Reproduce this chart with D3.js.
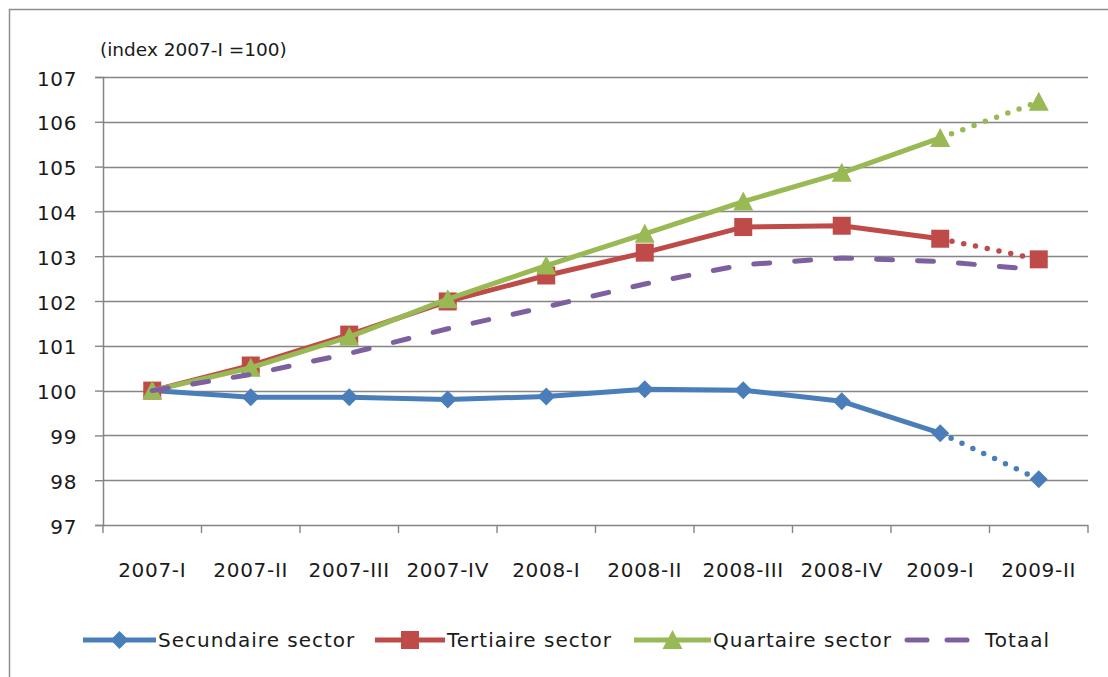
<!DOCTYPE html>
<html>
<head>
<meta charset="utf-8">
<script src="https://cdn.jsdelivr.net/npm/d3@7"></script>
<style>
  body { margin: 0; background: #fff; }
  text { font-family: "DejaVu Sans", sans-serif; fill: #1a1a1a; }
</style>
</head>
<body>
<div id="chart"></div>
<script>
const categories = ["2007-I", "2007-II", "2007-III", "2007-IV", "2008-I", "2008-II", "2008-III", "2008-IV", "2009-I", "2009-II"];
const secundaire = [100, 99.85, 99.85, 99.8, 99.87, 100.03, 100.01, 99.76, 99.05, 98.02];
const tertiaire = [100, 100.56, 101.25, 101.99, 102.57, 103.08, 103.65, 103.68, 103.39, 102.93];
const quartaire = [100, 100.51, 101.2, 102.04, 102.79, 103.5, 104.22, 104.86, 105.64, 106.45];
const totaal = [100, 100.36, 100.83, 101.38, 101.87, 102.38, 102.81, 102.96, 102.88, 102.7];
const yTicks = [97, 98, 99, 100, 101, 102, 103, 104, 105, 106, 107];
const unitLabel = "(index 2007-I =100)";

const series = [
  { name: "Secundaire sector", values: secundaire, color: "#4a7ebb", marker: "diamond", projected: true },
  { name: "Tertiaire sector", values: tertiaire, color: "#be4b48", marker: "square", projected: true },
  { name: "Quartaire sector", values: quartaire, color: "#98b954", marker: "triangle", projected: true },
  { name: "Totaal", values: totaal, color: "#7d60a0", marker: null, projected: false }
];

const W = 1108, H = 677;
const plot = { left: 103, right: 1088, top: 77, bottom: 525 };

const svg = d3.select("#chart").append("svg")
  .attr("width", W).attr("height", H);

// outer chart border (cut off at right/bottom like the reference)
svg.append("rect")
  .attr("x", 9.5).attr("y", 9.5)
  .attr("width", W + 10).attr("height", H + 10)
  .attr("fill", "none").attr("stroke", "#8e8e8e").attr("stroke-width", 1.5);

const x = d3.scaleBand().domain(categories).range([plot.left, plot.right]);
const y = d3.scaleLinear().domain([97, 107]).range([plot.bottom, plot.top]);
const cx = d => x(d) + x.bandwidth() / 2;

// gridlines
svg.append("g")
  .selectAll("line").data(yTicks.filter(t => t > 97)).join("line")
  .attr("x1", plot.left).attr("x2", plot.right)
  .attr("y1", d => Math.round(y(d)) + 0.5).attr("y2", d => Math.round(y(d)) + 0.5)
  .attr("stroke", "#858585").attr("stroke-width", 1.4);

// y axis
const yAxis = svg.append("g")
  .attr("transform", `translate(${plot.left},0)`)
  .call(d3.axisLeft(y).tickValues(yTicks).tickSize(8).tickPadding(18).tickFormat(d3.format("d")));
yAxis.select(".domain").attr("stroke", "#858585").attr("stroke-width", 1.5);
yAxis.selectAll(".tick line").attr("stroke", "#858585").attr("stroke-width", 1.4);
yAxis.selectAll(".tick text")
  .attr("font-size", 20).attr("font-family", "DejaVu Sans").attr("fill", "#1a1a1a")
  .attr("letter-spacing", 0.6)
  .attr("dy", "0.4em");

// x axis, ticks between categories
const xAxis = svg.append("g")
  .attr("transform", `translate(0,${plot.bottom})`);
xAxis.append("line")
  .attr("x1", plot.left).attr("x2", plot.right)
  .attr("y1", 0.5).attr("y2", 0.5)
  .attr("stroke", "#858585").attr("stroke-width", 1.5);
const bounds = categories.map(c => x(c)).concat([plot.right]);
xAxis.selectAll("line.tk").data(bounds).join("line")
  .attr("class", "tk")
  .attr("x1", d => d).attr("x2", d => d)
  .attr("y1", 0).attr("y2", 8)
  .attr("stroke", "#858585").attr("stroke-width", 1.4);
xAxis.selectAll("text").data(categories).join("text")
  .attr("x", d => cx(d)).attr("y", 52)
  .attr("text-anchor", "middle").attr("font-size", 20)
  .attr("letter-spacing", 0.7)
  .text(d => d);

// unit label
svg.append("text")
  .attr("x", 100).attr("y", 56)
  .attr("font-size", 18.5)
  .text(unitLabel);

// markers
function markerPath(type, size) {
  const s = size / 2;
  if (type === "diamond") return `M0,${-s}L${s},0L0,${s}L${-s},0Z`;
  if (type === "square") return `M${-s},${-s}H${s}V${s}H${-s}Z`;
  if (type === "triangle") return `M0,${-s - 1}L${s + 1},${s}L${-s - 1},${s}Z`;
  return "";
}
const markerSize = { diamond: 18, square: 18, triangle: 18 };

const line = d3.line()
  .x(d => cx(d.cat))
  .y(d => y(d.v));

series.forEach(s => {
  const pts = s.values.map((v, i) => ({ cat: categories[i], v }));
  const g = svg.append("g");
  if (s.projected) {
    g.append("path")
      .datum(pts.slice(0, pts.length - 1))
      .attr("d", line)
      .attr("fill", "none").attr("stroke", s.color)
      .attr("stroke-width", 5).attr("stroke-linejoin", "round");
    g.append("path")
      .datum(pts.slice(pts.length - 2))
      .attr("d", line)
      .attr("fill", "none").attr("stroke", s.color)
      .attr("stroke-width", 5.5).attr("stroke-linecap", "round")
      .attr("stroke-dasharray", "0,12");
  } else {
    g.append("path")
      .datum(pts)
      .attr("d", line)
      .attr("fill", "none").attr("stroke", s.color)
      .attr("stroke-width", 5).attr("stroke-linecap", "round")
      .attr("stroke-dasharray", "16,25");
  }
  if (s.marker) {
    g.selectAll("path.mk").data(pts).join("path")
      .attr("class", "mk")
      .attr("transform", d => `translate(${cx(d.cat)},${y(d.v)})`)
      .attr("d", markerPath(s.marker, markerSize[s.marker]))
      .attr("fill", s.color);
  }
});

// legend
const legendItems = [
  { x0: 83, x1: 156 },
  { x0: 375, x1: 445 },
  { x0: 634, x1: 711 },
  { x0: 907, x1: 970 }
];
const legendY = 640;
const lg = svg.append("g");
series.forEach((s, i) => {
  const it = legendItems[i];
  const l = lg.append("line")
    .attr("x1", it.x0).attr("x2", it.x1)
    .attr("y1", legendY).attr("y2", legendY)
    .attr("stroke", s.color).attr("stroke-width", 5);
  if (!s.marker) l.attr("stroke-dasharray", "20,20").attr("stroke-linecap", "round");
  if (s.marker) {
    lg.append("path")
      .attr("transform", `translate(${(it.x0 + it.x1) / 2},${legendY})`)
      .attr("d", markerPath(s.marker, markerSize[s.marker]))
      .attr("fill", s.color);
  }
  lg.append("text")
    .attr("x", it.x1 + (s.marker ? 2 : 15)).attr("y", legendY + 7)
    .attr("font-size", 20)
    .attr("letter-spacing", 1)
    .text(s.name);
});
</script>
</body>
</html>
